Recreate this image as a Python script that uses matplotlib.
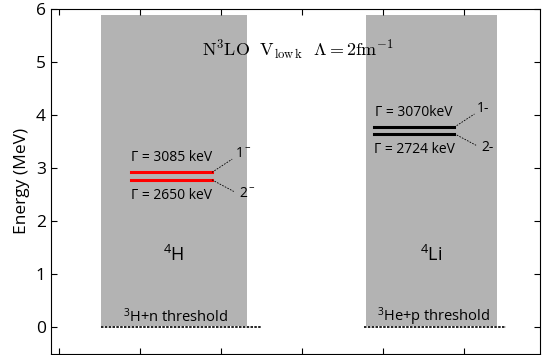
import matplotlib
matplotlib.use("Agg")
import matplotlib.pyplot as plt

plt.rcParams['font.family'] = ['Open Sans', 'DejaVu Sans']
plt.rcParams['mathtext.fontset'] = 'cm'

# nuclei: box extent (x), level energies (MeV), widths (keV)
nuclei = [r"$\mathregular{^4}$H", r"$\mathregular{^4}$Li"]
box_x = [(0.52, 2.32), (3.79, 5.41)]
box_top = 5.88
level_x = [(0.89, 1.89), (3.89, 4.88)]
level_1m = [2.92, 3.77]
level_2m = [2.78, 3.65]
gamma_1m = ["Γ = 3085 keV", "Γ = 3070keV"]
gamma_2m = ["Γ = 2650 keV", "Γ = 2724 keV"]
level_colors = ["#ff0000", "black"]
thresh_x = [(0.52, 2.51), (3.77, 5.52)]
thresh_labels = [r"$\mathregular{^3}$H+n threshold", r"$\mathregular{^3}$He+p threshold"]

fig = plt.figure(figsize=(5.45, 3.55), dpi=100)
ax = fig.add_axes([0.093, 0.003, 0.898, 0.972])

for i in range(2):
    x0, x1 = box_x[i]
    ax.fill_between([x0, x1], 0.03, box_top, color="#b3b3b3", lw=0, zorder=0)
    # threshold
    ax.plot(thresh_x[i], [0, 0], color="black", ls=(0, (1.5, 0.8)), lw=1.2)
    xm = (x0 + x1) / 2
    ax.text(xm + 0.02, 0.2, thresh_labels[i], ha="center", va="center", fontsize=10.5)
    ax.text(xm, 1.37, nuclei[i], ha="center", va="center", fontsize=13)
    # levels
    lx0, lx1 = level_x[i]
    c = level_colors[i]
    ax.plot([lx0, lx1], [level_1m[i]] * 2, color=c, lw=2.2)
    ax.plot([lx0, lx1], [level_2m[i]] * 2, color=c, lw=2.2)
    lm = (lx0 + lx1) / 2
    ax.text(lm, level_1m[i] + 0.28, gamma_1m[i], ha="center", va="center", fontsize=10)
    ax.text(lm, level_2m[i] - 0.3, gamma_2m[i], ha="center", va="center", fontsize=10)
    # connectors to spin labels
    ax.plot([lx1, lx1 + 0.25], [level_1m[i], level_1m[i] + 0.25], color="black", ls=(0, (2, 1.5)), lw=0.6)
    ax.plot([lx1, lx1 + 0.27], [level_2m[i], level_2m[i] - 0.22], color="black", ls=(0, (2, 1.5)), lw=0.6)
    sup = r"$\mathregular{^-}$" if i == 0 else "-"
    ax.text(lx1 + 0.28, level_1m[i] + 0.35, "1" + sup, ha="left", va="center", fontsize=10)
    ax.text(lx1 + 0.33, level_2m[i] - 0.26, "2" + sup, ha="left", va="center", fontsize=10)

ax.text(2.95, 5.24, r"$\mathrm{N^3LO}\ \ \mathrm{V_{low\,k}}\ \ \Lambda = 2\mathrm{fm}^{-1}$",
        ha="center", va="center", fontsize=13)

ax.set_xlim(-0.1, 5.94)
ax.set_ylim(-0.5, 6)
ax.set_xticks(range(6))
ax.set_xticklabels([])
ax.set_yticks(range(7))
ax.tick_params(direction="in", top=True, right=True, length=4, width=0.8, labelsize=12.5)
ax.set_ylabel("Energy (MeV)", fontsize=12.5)

fig.savefig("out.png", dpi=100)
